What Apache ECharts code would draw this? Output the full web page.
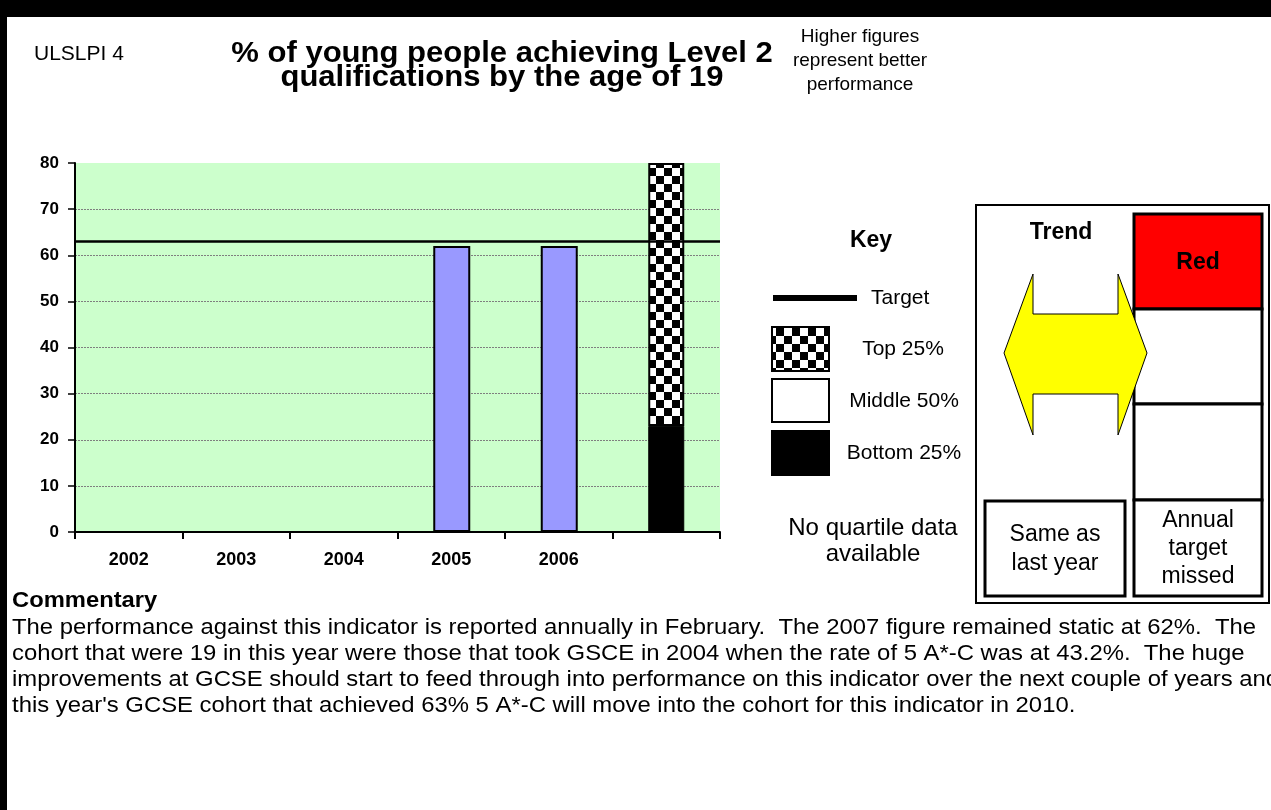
<!DOCTYPE html>
<html>
<head>
<meta charset="utf-8">
<script src="https://cdn.jsdelivr.net/npm/echarts@6/dist/echarts.min.js"></script>
<style>
html,body{margin:0;padding:0;background:#fff;}
#chart{width:1271px;height:810px;}
</style>
</head>
<body>
<div id="chart"></div>
<script>
// ---- data ----
const categories = ['2002', '2003', '2004', '2005', '2006', ''];
const performance = [null, null, null, 62, 62, null];
const bottomQuartile = [null, null, null, null, null, 23];
const middleQuartile = [null, null, null, null, null, 0];
const topQuartile = [null, null, null, null, null, 57];
const targetValue = 63;
const yMin = 0, yMax = 80, yStep = 10;

const titleLines = ['% of young people achieving Level 2', 'qualifications by the age of 19'];
const noteLines = ['Higher figures', 'represent better', 'performance'];
const keyLabels = ['Target', 'Top 25%', 'Middle 50%', 'Bottom 25%'];
const noDataLines = ['No quartile data', 'available'];
const trendLines = ['Same as', 'last year'];
const statusLines = ['Annual', 'target', 'missed'];
const commentaryLines = [
  'The performance against this indicator is reported annually in February.  The 2007 figure remained static at 62%.  The',
  'cohort that were 19 in this year were those that took GSCE in 2004 when the rate of 5 A*-C was at 43.2%.  The huge',
  'improvements at GCSE should start to feed through into performance on this indicator over the next couple of years and',
  "this year's GCSE cohort that achieved 63% 5 A*-C will move into the cohort for this indicator in 2010."
];

// ---- styles ----
const FF = '"Liberation Sans", Arial, Helvetica, sans-serif';
function checker(size) {
  const c = document.createElement('canvas');
  c.width = size * 2; c.height = size * 2;
  const g = c.getContext('2d');
  g.fillStyle = '#ffffff'; g.fillRect(0, 0, size * 2, size * 2);
  g.fillStyle = '#000000';
  g.fillRect(0, 0, size, size);
  g.fillRect(size, size, size, size);
  return c;
}
const checkerPattern = { image: checker(8), repeat: 'repeat' };

function txt(text, x, y, font, align, sx) {
  return {
    type: 'text', z: 10,
    x: x, y: y, scaleX: sx || 1, scaleY: 1,
    style: {
      text: text, x: 0, y: 0, font: font, fill: '#000',
      align: align || 'left', verticalAlign: 'middle',
      textAlign: align || 'left', textVerticalAlign: 'middle'
    }
  };
}
function rect(x, y, w, h, fill, stroke, lw, z) {
  return {
    type: 'rect', z: z || 5,
    shape: { x: x, y: y, width: w, height: h },
    style: { fill: fill, stroke: stroke || null, lineWidth: lw || 0 }
  };
}

const graphics = [];
// frame
graphics.push(rect(0, 0, 1271, 17, '#000'));
graphics.push(rect(0, 0, 7, 810, '#000'));
// header texts
graphics.push(txt('ULSLPI 4', 34, 54, '21px ' + FF, 'left'));
titleLines.forEach((t, i) => graphics.push(txt(t, 502, 54 + i * 24, 'bold 29px ' + FF, 'center', 1.07)));
noteLines.forEach((t, i) => graphics.push(txt(t, 860, 37 + i * 24, '19px ' + FF, 'center')));
// key
graphics.push(txt('Key', 871, 241, 'bold 23px ' + FF, 'center'));
graphics.push(rect(773, 295, 84, 6, '#000'));
graphics.push(txt(keyLabels[0], 871, 298, '21px ' + FF, 'left'));
graphics.push(rect(772, 327, 57, 44, checkerPattern, '#000', 2));
graphics.push(txt(keyLabels[1], 903, 349, '21px ' + FF, 'center'));
graphics.push(rect(772, 379, 57, 43, '#fff', '#000', 2));
graphics.push(txt(keyLabels[2], 904, 401, '21px ' + FF, 'center'));
graphics.push(rect(771, 430, 59, 46, '#000'));
graphics.push(txt(keyLabels[3], 904, 453, '21px ' + FF, 'center'));
noDataLines.forEach((t, i) => graphics.push(txt(t, 873, 528 + i * 26, '24px ' + FF, 'center')));
// trend box
graphics.push(rect(976, 205, 293, 398, '#fff', '#000', 2, 2));
graphics.push(txt('Trend', 1061, 233, 'bold 23px ' + FF, 'center'));
graphics.push(rect(1134, 214, 128, 95, '#ff0000', '#000', 3, 3));
graphics.push(rect(1134, 309, 128, 95, '#fff', '#000', 3, 3));
graphics.push(rect(1134, 404, 128, 96, '#fff', '#000', 3, 3));
graphics.push(rect(1134, 500, 128, 96, '#fff', '#000', 3, 3));
graphics.push(txt('Red', 1198, 263, 'bold 23px ' + FF, 'center'));
graphics.push({
  type: 'polygon', z: 8,
  shape: { points: [[1004, 353], [1033, 274], [1033, 314], [1118, 314], [1118, 274], [1147, 353], [1118, 435], [1118, 394], [1033, 394], [1033, 435]] },
  style: { fill: '#ffff00', stroke: '#000', lineWidth: 1 }
});
graphics.push(rect(985, 501, 140, 95, '#fff', '#000', 3, 3));
trendLines.forEach((t, i) => graphics.push(txt(t, 1055, 535 + i * 29, '23px ' + FF, 'center')));
statusLines.forEach((t, i) => graphics.push(txt(t, 1198, 521 + i * 28, '23px ' + FF, 'center')));
// commentary
graphics.push(txt('Commentary', 12, 601, 'bold 22px ' + FF, 'left', 1.08));
commentaryLines.forEach((t, i) => graphics.push(txt(t, 12, 628 + i * 26, '22px ' + FF, 'left', 1.085)));

const gridColors = [];
for (let v = yMin; v <= yMax; v += yStep) gridColors.push(v === yMax ? 'rgba(0,0,0,0)' : '#7f7f7f');

const chart = echarts.init(document.getElementById('chart'), null, { renderer: 'canvas' });
chart.setOption({
  backgroundColor: '#ffffff',
  animation: false,
  grid: {
    left: 75, top: 163, width: 645, height: 369,
    show: true, backgroundColor: '#ccffcc', borderWidth: 0
  },
  xAxis: {
    type: 'category', data: categories,
    axisLine: { show: true, lineStyle: { color: '#000', width: 2 } },
    axisTick: { show: true, alignWithLabel: false, length: 7, lineStyle: { color: '#000', width: 2 } },
    axisLabel: { color: '#000', fontFamily: FF, fontWeight: 'bold', fontSize: 18, margin: 19 },
    splitLine: { show: false }
  },
  yAxis: {
    type: 'value', min: yMin, max: yMax, interval: yStep,
    axisLine: { show: true, lineStyle: { color: '#000', width: 2 } },
    axisTick: { show: true, length: 7, lineStyle: { color: '#000', width: 1.5 } },
    axisLabel: { color: '#000', fontFamily: FF, fontWeight: 'bold', fontSize: 17, margin: 16 },
    splitLine: { show: true, lineStyle: { color: gridColors, width: 1, type: [2, 1] } }
  },
  series: [
    {
      name: 'Performance', type: 'bar', data: performance,
      barWidth: 37, barGap: '-100%',
      itemStyle: { color: '#9999ff', borderColor: '#000', borderWidth: 2 },
      markLine: {
        silent: true, symbol: ['none', 'none'],
        label: { show: false },
        lineStyle: { color: '#000', width: 2.5, type: 'solid' },
        data: [{ yAxis: targetValue }]
      },
      z: 3
    },
    {
      name: 'Bottom 25%', type: 'bar', stack: 'q', data: bottomQuartile,
      barWidth: 36, barGap: '-100%',
      itemStyle: { color: '#000', borderColor: '#000', borderWidth: 1 }, z: 2
    },
    {
      name: 'Middle 50%', type: 'bar', stack: 'q', data: middleQuartile,
      barWidth: 36, barGap: '-100%',
      itemStyle: { color: '#fff', borderWidth: 0 }, z: 2
    },
    {
      name: 'Top 25%', type: 'bar', stack: 'q', data: topQuartile,
      barWidth: 36, barGap: '-100%',
      itemStyle: { color: checkerPattern, borderColor: '#000', borderWidth: 2 }, z: 2
    }
  ],
  graphic: { elements: graphics }
});
</script>
</body>
</html>
